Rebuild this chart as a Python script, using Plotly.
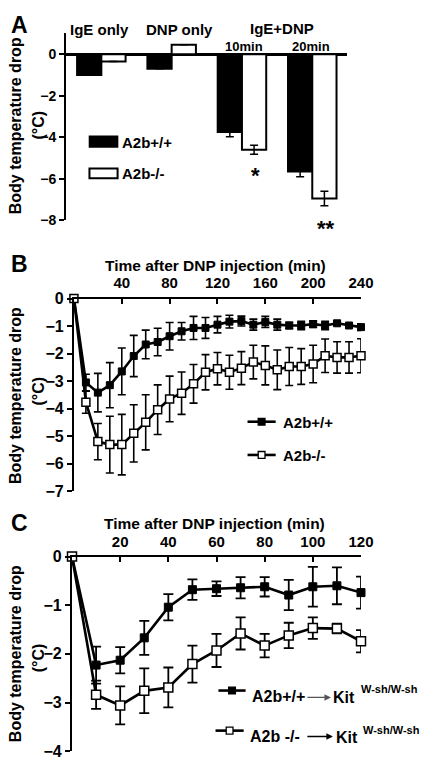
import plotly.graph_objects as go

W, H = 430, 759
FONT = "Liberation Sans"

# ---------------- Panel A data ----------------
groups_a = ["IgE only", "DNP only", "10min", "20min"]
wt_a = [-1.0, -0.7, -3.75, -5.65]
wt_a_err = [0.0, 0.0, 0.22, 0.25]
ko_a = [-0.35, 0.45, -4.6, -6.95]
ko_a_err = [0.0, 0.0, 0.22, 0.35]

# ---------------- Panel B data ----------------
time_b = [0, 10, 20, 30, 40, 50, 60, 70, 80, 90, 100, 110, 120, 130, 140,
          150, 160, 170, 180, 190, 200, 210, 220, 230, 240]
wt_b = [0, -3.05, -3.42, -3.15, -2.65, -2.09, -1.67, -1.58, -1.37, -1.19, -1.07,
        -1.07, -0.95, -0.84, -0.82, -0.95, -0.85, -0.95, -0.98, -0.98, -0.93,
        -0.98, -0.9, -0.98, -1.04]
wt_b_err = [0, 0.3, 0.7, 0.82, 0.85, 0.75, 0.52, 0.5, 0.5, 0.32, 0.42, 0.38, 0.3,
            0.23, 0.18, 0.2, 0.2, 0.2, 0.12, 0.15, 0.12, 0.15, 0.05, 0.05, 0.12]
ko_b = [0, -3.77, -5.2, -5.31, -5.31, -4.9, -4.5, -4.04, -3.65, -3.44, -3.1,
        -2.68, -2.55, -2.68, -2.53, -2.31, -2.43, -2.59, -2.47, -2.47, -2.38,
        -2.08, -2.14, -2.14, -2.08]
ko_b_err = [0, 0.4, 0.66, 1.03, 1.1, 1.04, 1.0, 0.9, 0.83, 0.77, 0.7, 0.64, 0.59,
            0.62, 0.6, 0.61, 0.71, 0.72, 0.69, 0.65, 0.68, 0.61, 0.57, 0.57, 0.62]

# ---------------- Panel C data ----------------
time_c = [0, 10, 20, 30, 40, 50, 60, 70, 80, 90, 100, 110, 120]
wt_c = [0, -2.23, -2.13, -1.67, -1.04, -0.68, -0.66, -0.64, -0.62, -0.79, -0.62, -0.6, -0.74]
wt_c_err = [0, 0.38, 0.27, 0.35, 0.27, 0.21, 0.15, 0.22, 0.2, 0.31, 0.41, 0.38, 0.33]
ko_c = [0, -2.84, -3.06, -2.76, -2.69, -2.21, -1.93, -1.58, -1.83, -1.62, -1.47, -1.48, -1.74]
ko_c_err = [0, 0.29, 0.39, 0.46, 0.41, 0.38, 0.34, 0.33, 0.24, 0.26, 0.22, 0.1, 0.23]

ticks_b = [40, 80, 120, 160, 200, 240]
ticks_c = [20, 40, 60, 80, 100, 120]


def px(x):
    return x / W


def py(y):
    return 1 - y / H


fig = go.Figure()

# Panel A bars
fig.add_trace(go.Bar(
    x=groups_a, y=wt_a, name="A2b+/+", marker=dict(color="black", line=dict(color="black", width=2)),
    error_y=dict(type="data", array=wt_a_err, color="black", thickness=1.5, width=4),
    xaxis="x", yaxis="y", showlegend=False))
fig.add_trace(go.Bar(
    x=groups_a, y=ko_a, name="A2b-/-", marker=dict(color="white", line=dict(color="black", width=2)),
    error_y=dict(type="data", array=ko_a_err, color="black", thickness=1.5, width=4),
    xaxis="x", yaxis="y", showlegend=False))

# Panel B lines
line_w = 2.6
fig.add_trace(go.Scatter(
    x=time_b, y=wt_b, mode="lines+markers", xaxis="x2", yaxis="y2", showlegend=False,
    line=dict(color="black", width=line_w),
    marker=dict(symbol="square", size=7, color="black", line=dict(color="black", width=1)),
    error_y=dict(type="data", array=wt_b_err, color="black", thickness=1.6, width=4),
    cliponaxis=False))
fig.add_trace(go.Scatter(
    x=time_b, y=ko_b, mode="lines+markers", xaxis="x2", yaxis="y2", showlegend=False,
    line=dict(color="black", width=line_w),
    marker=dict(symbol="square", size=8, color="white", line=dict(color="black", width=1.5)),
    error_y=dict(type="data", array=ko_b_err, color="black", thickness=1.6, width=4),
    cliponaxis=False))

# Panel C lines
fig.add_trace(go.Scatter(
    x=time_c, y=wt_c, mode="lines+markers", xaxis="x3", yaxis="y3", showlegend=False,
    line=dict(color="black", width=line_w),
    marker=dict(symbol="square", size=8, color="black", line=dict(color="black", width=1)),
    error_y=dict(type="data", array=wt_c_err, color="black", thickness=1.8, width=5),
    cliponaxis=False))
fig.add_trace(go.Scatter(
    x=time_c, y=ko_c, mode="lines+markers", xaxis="x3", yaxis="y3", showlegend=False,
    line=dict(color="black", width=line_w),
    marker=dict(symbol="square", size=9, color="white", line=dict(color="black", width=1.5)),
    error_y=dict(type="data", array=ko_c_err, color="black", thickness=1.8, width=5),
    cliponaxis=False))

tickfont_a = dict(family=FONT, size=14, color="black", weight="bold")
tickfont_x = dict(family=FONT, size=15, color="black", weight="bold")
tickfont_y = dict(family=FONT, size=16, color="black", weight="bold")

common_y = dict(showline=True, linecolor="black", linewidth=2.2, ticks="outside", ticklen=5,
                tickwidth=2, tickcolor="black", showgrid=False)
common_x = dict(showline=True, linecolor="black", linewidth=2.2, ticks="inside", ticklen=5,
                tickwidth=2, tickcolor="black", showgrid=False, zeroline=False, tickfont=tickfont_x,
                side="top", ticklabelstandoff=2)

fig.update_layout(
    width=W, height=H, margin=dict(l=0, r=0, t=0, b=0),
    paper_bgcolor="white", plot_bgcolor="rgba(0,0,0,0)",
    barmode="group", bargap=0.31, bargroupgap=0,
    font=dict(family=FONT, color="black"),
    xaxis=dict(domain=[px(60), px(350)], anchor="y", range=[-0.5, 3.5], showticklabels=False,
               ticks="", showline=False, showgrid=False, zeroline=False),
    yaxis=dict(domain=[py(209), py(17)], anchor="x", range=[-8, 1.04], tickvals=[0, -2, -4, -6, -8],
               tickfont=tickfont_a, zeroline=True, zerolinecolor="black", zerolinewidth=2.5,
               **common_y),
    xaxis2=dict(domain=[px(68), px(364)], anchor="y2", range=[0, 240], tickvals=ticks_b, **common_x),
    yaxis2=dict(domain=[py(486), py(289)], anchor="x2", range=[-7, 0], tickvals=[0, -1, -2, -3, -4, -5, -6, -7],
                tickfont=tickfont_y, zeroline=False, **common_y),
    xaxis3=dict(domain=[px(66), px(364)], anchor="y3", range=[0, 120], tickvals=ticks_c, **common_x),
    yaxis3=dict(domain=[py(752), py(553)], anchor="x3", range=[-4, 0], tickvals=[0, -1, -2, -3, -4],
                tickfont=tickfont_y, zeroline=False, **common_y),
)

ann = []


def text(x, y, s, size, xanchor="center", yanchor="middle", angle=0, color="black", bold=True):
    ann.append(dict(x=px(x), y=py(y), xref="paper", yref="paper", text=s, showarrow=False,
                    xanchor=xanchor, yanchor=yanchor, textangle=angle,
                    font=dict(family=FONT, size=size, color=color, weight="bold" if bold else "normal")))


# panel letters
text(1, 9, "A", 23, xanchor="left")
text(1, 254, "B", 23, xanchor="left")
text(1, 519, "C", 23, xanchor="left")

# y titles
for cy, cy2 in [(112, 112), (388, 384), (652, 657)]:
    text(8, cy, "Body temperature drop", 16, angle=-90)
    text(31, cy2, "(°C)", 16, angle=-90)

# x titles
text(214, 255, "Time after DNP injection (min)", 15.5)
text(213, 519, "Time after DNP injection (min)", 15.5)

# Panel A group labels
text(94, 14, "IgE only", 15)
text(177, 14, "DNP only", 15)
text(283, 13, "IgE+DNP", 15)
text(243, 31, "10min", 13)
text(312, 31, "20min", 13)
text(255, 163, "*", 22)
text(328, 217, "**", 22)

# Panel A legend
shapes = []
shapes.append(dict(type="rect", xref="paper", yref="paper", x0=px(84), x1=px(113), y0=py(134), y1=py(123),
                   fillcolor="black", line=dict(color="black", width=1.5)))
shapes.append(dict(type="rect", xref="paper", yref="paper", x0=px(84), x1=px(113), y0=py(166), y1=py(156),
                   fillcolor="white", line=dict(color="black", width=2)))
text(116, 129, "A2b+/+", 15, xanchor="left")
text(116, 161, "A2b-/-", 15, xanchor="left")

# Panel B legend
for yy, fill in [(415, "black"), (449, "white")]:
    shapes.append(dict(type="line", xref="paper", yref="paper", x0=px(247), x1=px(276), y0=py(yy), y1=py(yy),
                       line=dict(color="black", width=2.6)))
    shapes.append(dict(type="rect", xref="paper", yref="paper", x0=px(258), x1=px(265), y0=py(yy + 3.5),
                       y1=py(yy - 3.5), fillcolor=fill, line=dict(color="black", width=1.3)))
text(281, 416, "A2b+/+", 15, xanchor="left")
text(281, 450, "A2b-/-", 15, xanchor="left")

# Panel C legend
for (x0, x1, yy, fill) in [(217, 245, 690, "black"), (214, 243, 731, "white")]:
    cx = (x0 + x1) / 2
    shapes.append(dict(type="line", xref="paper", yref="paper", x0=px(x0), x1=px(x1), y0=py(yy), y1=py(yy),
                       line=dict(color="black", width=2.6)))
    shapes.append(dict(type="rect", xref="paper", yref="paper", x0=px(cx - 3.5), x1=px(cx + 3.5), y0=py(yy + 3.5),
                       y1=py(yy - 3.5), fillcolor=fill, line=dict(color="black", width=1.3)))
text(250, 696, "A2b+/+", 16, xanchor="left")
text(333, 697, "Kit", 16, xanchor="left")
text(362, 688, "W-sh/W-sh", 11, xanchor="left")
text(247, 737, "A2b -/-", 16, xanchor="left")
text(336, 738, "Kit", 16, xanchor="left")
text(364, 730, "W-sh/W-sh", 11, xanchor="left")

# arrows (tail offset in pixels)
for (xa, xb, yy, col) in [(308, 333, 697, "#555"), (308, 335, 737, "black")]:
    ann.append(dict(x=px(xb), y=py(yy), ax=xa - xb, ay=0, xref="paper", yref="paper",
                    axref="pixel", ayref="pixel", text="", showarrow=True, arrowhead=2,
                    arrowsize=1, arrowwidth=1.3, arrowcolor=col))

fig.update_layout(annotations=ann, shapes=shapes)

fig.write_html("out.html")
